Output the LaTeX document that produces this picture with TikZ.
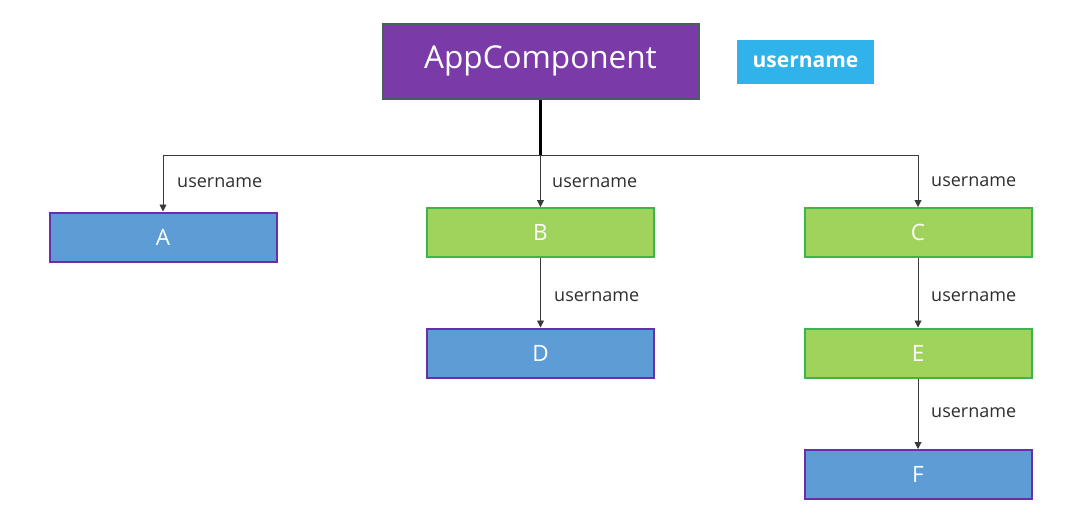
\documentclass[tikz,border=0pt]{standalone}
\usepackage{fontspec}
\setmainfont{Open Sans}
\usetikzlibrary{arrows.meta}
\definecolor{apppurple}{HTML}{7A3BA9}
\definecolor{appedge}{HTML}{4A5E5C}
\definecolor{tagblue}{HTML}{2FB3EA}
\definecolor{leafblue}{HTML}{5E9CD6}
\definecolor{leafedge}{HTML}{6A2FA6}
\definecolor{midgreen}{HTML}{A0D35B}
\definecolor{midedge}{HTML}{3DB54E}
\definecolor{wire}{HTML}{3A3A3A}
\definecolor{lbl}{HTML}{2E2E2E}
\tikzset{
  comp/.style={minimum width=227pt, minimum height=49pt, inner sep=0pt,
    line width=2pt, text=white, font=\fontsize{22.5}{24}\selectfont},
  leaf/.style={comp, fill=leafblue, draw=leafedge},
  mid/.style={comp, fill=midgreen, draw=midedge},
  arr/.style={draw=wire, line width=0.9pt, -{Triangle[length=7pt,width=7pt]}},
  lab/.style={anchor=west, text=lbl, font=\fontsize{18}{20}\selectfont, inner sep=0pt}
}
\begin{document}
\begin{tikzpicture}[x=1pt,y=-1pt]
  \useasboundingbox (0,0) rectangle (1083,515);
  % root component and its state
  \node[fill=apppurple, draw=appedge, line width=2pt, minimum width=316pt, minimum height=75pt,
        inner sep=0pt, text=white, font=\fontsize{31.5}{34}\selectfont] (app) at (540.5,61) {AppComponent};
  \node[fill=tagblue, minimum width=137pt, minimum height=44pt, inner sep=0pt, text=white,
        font=\bfseries\fontsize{21}{23}\selectfont] (tag) at (805.5,62) {username};
  % children
  \node[leaf] (A) at (163,237) {A};
  \node[mid]  (B) at (540.5,232.5) {B};
  \node[mid]  (C) at (918,232.5) {C};
  \node[leaf] (D) at (540.5,353) {D};
  \node[mid]  (E) at (918,353) {E};
  \node[leaf] (F) at (918,474.5) {F};
  % distribution bus
  \coordinate (J) at (540.5,155);
  \draw[black, line width=2.3pt] (app.south) -- (J);
  \draw[arr] (J) -| (A.north);
  \draw[arr] (J) -- (B.north);
  \draw[arr] (J) -| (C.north);
  \draw[arr] (B.south) -- (D.north);
  \draw[arr] (C.south) -- (E.north);
  \draw[arr] (E.south) -- (F.north);
  % edge labels
  \node[lab] (lA) at (177,183) {username};
  \node[lab] (lB) at (552,183) {username};
  \node[lab] (lC) at (931,182) {username};
  \node[lab] (lD) at (554,297) {username};
  \node[lab] (lE) at (931,297) {username};
  \node[lab] (lF) at (931,413) {username};
\end{tikzpicture}
\end{document}
